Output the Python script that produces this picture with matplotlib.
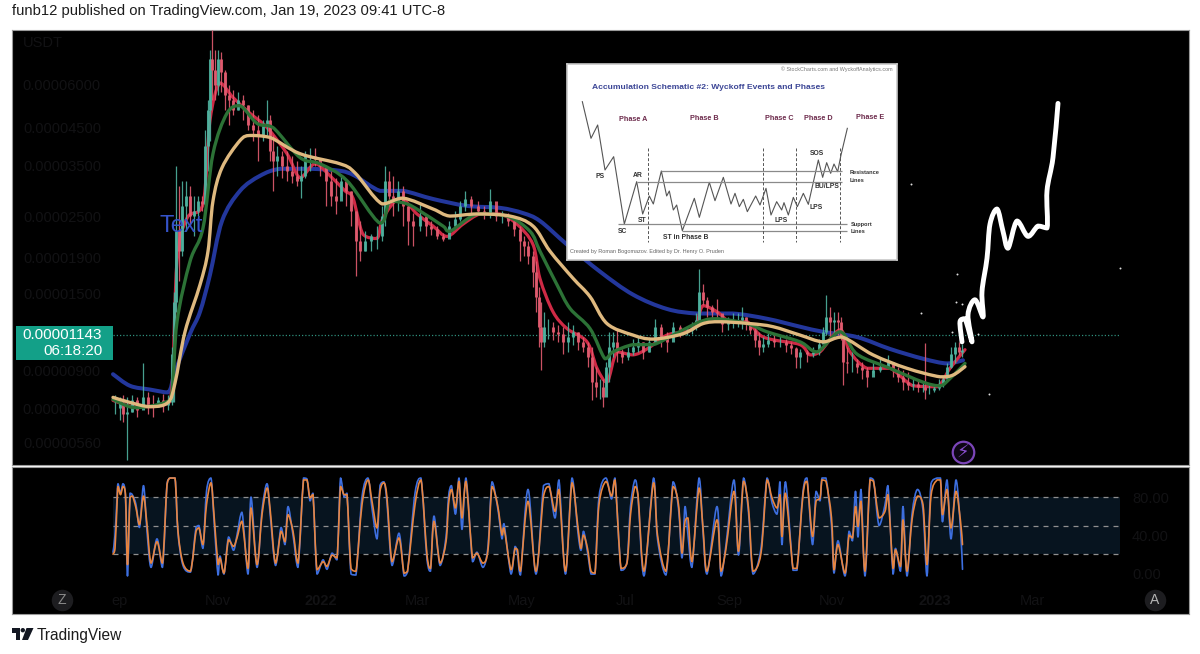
import matplotlib
matplotlib.use("Agg")
import matplotlib.pyplot as plt
import numpy as np
from matplotlib.patches import Polygon, Circle, PathPatch
from matplotlib.path import Path

plt.rcParams['font.family'] = ['Liberation Sans', 'DejaVu Sans']

# Prices are in units of 1e-8 USDT; x is chart position along the time scale.
price_ticks = [6000, 4500, 3500, 2500, 1900, 1500, 900, 700, 560]
price_labels = ['0.00006000', '0.00004500', '0.00003500', '0.00002500', '0.00001900',
                '0.00001500', '0.00000900', '0.00000700', '0.00000560']
last_price = 1143
month_pos = [120, 218, 321, 417, 522, 625, 729, 832, 935, 1032]
month_labels = ['ep', 'Nov', '2022', 'Mar', 'May', 'Jul', 'Sep', 'Nov', '2023', 'Mar']

candle_x = [115,120,123,127,132,137,143,148,153,158,163,168,172,174,176,179,182,186,190,194,198,202,205,208,210,212,215,218,221,225,
229,233,238,243,248,253,258,263,267,270,273,277,282,287,292,297,301,305,310,315,320,326,331,336,341,346,351,356,360,365,
371,377,382,385,389,393,398,403,408,413,420,426,431,437,443,449,455,460,465,471,478,484,490,496,502,508,514,520,524,528,
533,536,539,541,544,548,553,558,563,568,573,578,583,588,592,596,600,603,606,609,613,617,622,628,633,638,643,649,655,661,
667,673,680,687,692,696,699,703,707,712,717,722,728,733,738,742,746,750,755,759,763,768,774,780,786,791,796,800,807,813,
819,823,826,830,834,838,841,843,847,852,857,862,867,873,880,888,893,898,903,908,913,918,923,925,929,934,939,943,947,951,
955,959,962]
candle_high = [765,755,765,755,765,755,945,780,765,755,770,765,1055,1520,3495,3060,3165,3165,3060,2860,2860,2860,4415,5390,7515,8580,7515,7515,7400,6600,
5960,5765,5680,5575,5215,5045,4880,4720,5390,4880,4270,3995,3865,3865,3735,3615,3495,3865,3920,3920,3615,3495,3380,3230,3270,3165,2960,2590,2425,2265,
2230,2345,2680,3495,3380,3270,3165,3060,2680,2555,2750,2505,2425,2345,2235,2425,2590,2770,2960,2860,2770,2680,3000,2680,2590,2555,2505,2345,2190,2120,
1985,1855,1570,1420,1330,1270,1245,1220,1205,1245,1220,1165,1125,1090,1055,925,850,850,955,1165,1165,1190,1040,1055,1110,1125,1090,1125,1270,1230,
1165,1245,1220,1205,1245,1315,1770,1600,1470,1395,1450,1285,1285,1315,1315,1375,1285,1245,1205,1165,1125,1165,1150,1140,1110,1090,1055,1040,1035,1055,
1110,1205,1490,1375,1330,1330,1285,1165,1055,1020,975,955,925,955,975,1000,955,925,905,895,865,850,835,1085,825,820,850,865,945,1055,
1090,1090,1075]
candle_low = [675,650,640,500,685,662,708,675,662,708,685,695,720,730,1330,1625,1920,2265,2345,2190,2505,2590,2680,3380,4130,5390,5390,5575,5680,5045,
4565,4880,5045,4720,4415,4130,3615,4130,4270,3615,2960,3270,3230,3165,3125,3060,2820,3230,3380,3495,3270,2680,2680,2540,2860,2680,2345,1680,1855,1985,
1985,2010,2120,2345,2680,2505,2590,2345,2075,2050,2265,2190,2205,2150,2120,2235,2300,2425,2590,2555,2540,2455,2470,2425,2390,2345,2190,1855,1920,1830,
1570,1330,1055,905,1055,1110,1105,1090,1005,1020,1070,1035,1020,925,740,755,745,708,810,835,985,955,945,965,1000,1020,975,1020,1090,1055,
1020,1110,1125,1140,1150,1180,1305,1395,1285,1270,1270,1165,1180,1195,1205,1190,1180,1150,1055,1000,1020,1055,1055,1055,1020,1005,915,915,955,985,
1000,1090,1140,1125,1140,1140,1105,820,885,895,885,850,810,885,895,915,865,835,795,795,795,780,780,745,770,780,795,810,850,915,
945,1000,985]
candle_close = [705,730,675,685,740,695,755,720,708,740,720,730,1005,1420,2265,1985,2680,2860,2505,2590,2770,2715,3995,5045,7060,6600,5960,7060,6480,5575,
5390,5045,5390,5215,4565,4415,4270,4565,4720,3865,3615,3735,3495,3380,3270,3165,3270,3735,3735,3660,3495,3165,2860,2770,3165,2960,2590,2120,1985,2120,
2190,2190,2505,3165,2860,2770,2960,2680,2425,2345,2505,2345,2300,2190,2150,2345,2455,2680,2805,2680,2590,2555,2770,2505,2505,2425,2300,2120,2050,1920,
1735,1470,1205,1090,1205,1205,1165,1150,1090,1125,1165,1090,1055,985,835,810,810,755,925,1055,1090,1020,985,1020,1055,1090,1020,1090,1205,1125,
1090,1205,1165,1180,1205,1260,1520,1440,1375,1330,1315,1230,1245,1245,1260,1285,1230,1180,1105,1055,1075,1105,1090,1090,1070,1050,985,1020,1005,1020,
1075,1165,1285,1245,1260,1245,1125,955,945,945,925,905,865,905,925,955,905,865,835,820,825,810,810,795,795,805,825,850,925,1005,
1055,1020,1035]

ema_blue_x = [113,130,150,168,175,190,200,210,222,240,260,280,310,340,355,380,403,433,467,500,523,540,567,600,633,667,697,733,767,800,823,857,890,923,947,963]
ema_blue = [880,815,795,780,895,1150,1330,1700,2425,2960,3270,3425,3425,3380,3270,2960,2960,2805,2680,2645,2555,2425,2075,1735,1490,1355,1315,1315,1270,1205,1165,1125,1040,975,945,965]
ema_tan_x = [113,130,150,168,175,185,200,208,213,222,240,250,270,300,340,355,382,403,433,450,477,510,533,550,573,590,607,633,653,683,703,720,750,773,800,823,842,873,907,940,953,965]
ema_tan = [755,730,710,730,830,1165,1590,1985,2770,3450,4130,4270,4215,3785,3540,3335,2715,2820,2625,2505,2540,2505,2345,1985,1660,1470,1230,1140,1110,1150,1230,1245,1230,1205,1140,1090,1125,1000,915,865,875,925]
ema_green_x = [113,135,165,172,177,190,203,213,227,240,257,273,300,320,347,380,390,407,420,443,450,477,507,530,540,557,570,590,605,613,633,653,673,700,717,747,767,800,817,840,857,890,923,940,950,965]
ema_green = [745,705,730,780,1245,1855,2315,3785,4945,5200,4625,4500,3690,3540,3165,2390,2770,2715,2590,2345,2265,2540,2505,2265,1985,1590,1360,1190,975,1020,1070,1070,1140,1245,1270,1230,1165,1090,1020,1165,1005,915,835,815,855,945]
ema_red_x = [113,135,165,172,177,187,203,210,220,233,250,267,287,300,315,330,345,353,363,377,383,400,417,433,447,463,480,500,517,533,540,553,567,587,597,607,617,633,647,667,693,703,717,730,747,760,773,800,810,820,840,850,867,890,913,937,950,965]
ema_red = [740,708,720,810,1855,2470,2715,4720,6040,5490,4945,4500,3785,3230,3540,3270,2960,2820,2220,2160,2470,2820,2540,2345,2190,2375,2540,2540,2375,2075,1655,1330,1190,1090,915,835,1020,1000,1040,1140,1190,1385,1330,1245,1245,1140,1105,1070,1000,1020,1180,1020,915,915,815,810,915,1035]

sketch_x = [962,960,965,972,968,975,983,982,987,990,997,1003,1008,1017,1028,1038,1047,1047,1053,1058]
sketch_price = [1090,1245,1270,1090,1305,1440,1285,1520,1895,2375,2625,2265,2025,2425,2190,2345,2315,2960,3690,5280]
speck_x = [1120,911,957,956,962,921,952,978,989]
speck_price = [1780,3105,1710,1420,1400,1320,1165,1150,770]

stoch_x = [113,115,117,118,120.5,123,125.5,127.5,130,132.5,
136,139.5,143.5,147,151,157,162.5,167,170,175,
178,183,190.5,196,199,203,206.5,211,214,218,
220,224,228.5,233.5,237,242,248,251,257,262,
267,270,275.5,281,285,288,293,298,303.5,307,
310,313,317,323,327,332,337,340.5,344,347,
351,356,362,368,372,377,380,384,387,392,
399,404,407.5,415,421,427,430.5,434,440,446,
448.5,451.5,455.5,459,462,466,472.5,477,483,488,
492,497.5,502,504,511,515,517.5,520.5,528,536,
543.5,549,555,559,565.5,572,578,581,583.5,587.5,
591,595,599,
606,611.5,615,621,627,630.5,635,638,644,653.5,
657.5,666,673,678.5,682,685,688,692,699,703,
707,717,721,726,734,738.5,743.5,748.5,753,761,
767,772,777,780,782,785.5,793,797,803,807,
812.5,816,820,822,826,831.5,834,838,845,849,
852.5,855.5,858,861,865,870,873.5,879,885,888,
893,895.5,900.5,903,907,912,917.5,923,927,931,
937,940.5,942.5,947,951,956,960.5,962.5]
stoch_d = [20,26,72,91,82.5,91,82.5,9,79,81,
68.5,51,81,51,10.5,33,10.5,93,100,100,
44,10.5,2,44,47.5,30,72,95,61.5,9,
16,0,35,28,37,54.5,5,68.5,9,61.5,
89.5,68.5,10.5,44,33,61.5,44,10.5,98,98,
79,82.5,3.5,12,7,19,16,91,82.5,82.5,
5,2,72,98,75.5,47.5,86,95,79,12,
37,0,2,72,98,19,5,54.5,10.5,33,
72,88,68.5,96.5,58,96.5,16,21,10.5,24.5,
91,72,40,47.5,3.5,26,24.5,2,75.5,2,
81,91,65,88,2,95,47.5,26,40,26,
2,0,72,
96.5,81,98,5,10.5,61.5,91,82.5,2,95,
40,2,91,72,21,54.5,58,12,89.5,47.5,
2,56,2,26,86,23,96.5,68.5,2,21,
98,79,68.5,82.5,38.5,84,5,5,82.5,96.5,
38.5,75.5,79,98,96.5,58,3.5,30,0,40,
37,70,49,75.5,2,98,96.5,58,65,82.5,
5,24.5,7,56,2,56,81,72,9,81,
98,98,61.5,88,47.5,86,54.5,30]
stoch_k = [22,40,78,94,84,94,80,-3,84,82,
72,48,92,44,6,36,6,94,100,100,
42,8,1,48,50,26,86,100,56,-2,
18,-1,38,24,40,64,-1,80,6,66,
94,64,8,48,30,70,40,6,100,99,
76,84,-1,14,4,21,14,100,80,84,
-1,-2,80,100,68,36,92,96,74,8,
42,-3,1,84,100,14,2,60,8,38,
80,92,62,100,46,100,12,22,6,28,
96,70,36,52,-1,28,20,-2,88,-1,
92,94,58,98,-1,100,42,24,44,22,
-1,-1,80,
100,78,100,3,12,70,98,80,-3,100,
36,-2,96,68,16,70,40,6,100,44,
-1,70,-3,30,98,19,100,64,-1,26,
100,74,62,96,30,96,3,3,86,100,
30,86,76,100,100,50,0,34,-3,44,
34,86,38,88,-3,100,98,50,72,92,
-1,26,2,70,-3,62,88,66,-3,94,
100,100,54,98,36,98,46,4]
stoch_levels = [80, 50, 20]
stoch_ticks = [80, 40, 0]
stoch_labels = ['80.00', '40.00', '0.00']

# Wyckoff schematic (its own drawing space)
wy_x = [67,93,113,135,161,193,230,248,268,280,304,320,328,340,350,367,403,418,448,465,490,513,525,538,550,562,587,600,618,633,650,665,672,685,700,712,730,745,775,788,800,812,822,833,843,862]
wy_y = [125,235,195,330,290,492,365,462,408,432,333,408,393,450,435,512,415,472,367,422,352,432,400,440,418,455,408,435,385,465,425,450,428,465,412,440,400,433,300,352,308,340,312,335,285,205]
wy_level_from = [304,230,175,367]
wy_level_to = [845,845,860,860]
wy_level_y = [333,365,493,513]
wy_dash_x = [263,610,707,840]
wy_phases = [('Phase A',220,178),('Phase B',433,177),('Phase C',657,175),('Phase D',775,175),('Phase E',930,173)]
wy_events = [('PS',120,348),('AR',232,346),('ST',247,481),('SC',188,515),('ST in Phase B',378,532),('LPS',662,480),
             ('LPS',767,442),('SOS',772,281),('BU/LPS',801,380)]
wy_notes = [('Resistance',914,339),('Lines',892,361),('Support',905,494),('Lines',894,515)]

W, H = 1200, 654
fig = plt.figure(figsize=(12, 6.54), dpi=100, facecolor='white')

def px_axes(l, t, r, b, **kw):
    return fig.add_axes([l/W, 1-b/H, (r-l)/W, (b-t)/H], **kw)

def curve(axis, xs, ys, log=False, **kw):
    """Draw a rounded line through every read point, without overshooting them."""
    x = np.asarray(xs, float)
    y = np.log(np.asarray(ys, float)) if log else np.asarray(ys, float)
    p = np.column_stack([x, y])
    q = np.vstack([p[0], p, p[-1]])
    verts, codes = [p[0]], [Path.MOVETO]
    for i in range(1, len(q) - 2):
        c1 = q[i] + (q[i+1] - q[i-1]) / 6
        c2 = q[i+1] - (q[i+2] - q[i]) / 6
        lo, hi = sorted((q[i][1], q[i+1][1]))
        c1[1] = np.clip(c1[1], lo, hi)
        c2[1] = np.clip(c2[1], lo, hi)
        verts += [c1, c2, q[i+1]]
        codes += [Path.CURVE4] * 3
    v = np.array(verts)
    if log:
        v[:, 1] = np.exp(v[:, 1])
    axis.add_patch(PathPatch(Path(v, codes), fill=False, capstyle='round', joinstyle='round', **kw))

DARK = '#121214'
# ---------- main price pane
ax = px_axes(12, 30, 1189, 465, facecolor='black')
ax.set_yscale('log')
ax.set_xlim(12, 1189)
ax.set_ylim(482.6, 8580)
ax.minorticks_off()
ax.set_yticks(price_ticks, price_labels)
ax.tick_params(axis='y', length=0, pad=-64, labelsize=10.5, labelcolor=DARK)
ax.set_xticks([])
for s in ax.spines.values():
    s.set_color('#9a9a9a'); s.set_linewidth(0.8)

prev = candle_close[0]
wx, wh, wl, wc, bo, bc = [], [], [], [], [], []
for x, h, l, c in zip(candle_x, candle_high, candle_low, candle_close):
    col = '#4fb3a0' if c >= prev else '#e25c70'
    wx.append(x); wh.append(h); wl.append(l); wc.append(col); bo.append(prev); bc.append(c)
    prev = c
curve(ax, ema_blue_x, ema_blue, log=True, edgecolor='#23379c', lw=2.9, zorder=2)
curve(ax, ema_red_x, ema_red, log=True, edgecolor='#cf2a45', lw=2.3, zorder=3)
ax.vlines(wx, wl, wh, colors=wc, lw=0.9, zorder=4, alpha=0.9)
ax.vlines(wx, bo, bc, colors=wc, lw=2.2, zorder=4, alpha=0.9)
curve(ax, ema_green_x, ema_green, log=True, edgecolor='#2c7236', lw=2.4, zorder=5)
curve(ax, ema_tan_x, ema_tan, log=True, edgecolor='#dfb97f', lw=2.4, zorder=6)
ax.hlines(last_price, 113, 1120, colors='#2f8f7c', lw=0.9, linestyles=(0, (1, 1.6)), zorder=1)
curve(ax, sketch_x, sketch_price, log=True, edgecolor='white', lw=3.5, zorder=8)
ax.scatter(speck_x, speck_price, s=2, color='#dddddd', zorder=8, linewidths=0)
ax.text(160, 2345, 'Text', color='#3553c8', fontsize=17, va='center', ha='left', zorder=9)
ax.text(23, 7870, 'USDT', color=DARK, fontsize=10.5, va='center', ha='left')
ax.scatter([963], [525], s=240, facecolor='#0d0614', edgecolor='#7b45b8', linewidths=1.6, zorder=9)
ax.text(963, 525, '\u26A1', color='#8b4fd0', fontsize=13, ha='center', va='center', zorder=10,
        family=['DejaVu Sans'])

# price box
box = px_axes(16, 326, 113, 360, facecolor='#13a088')
box.set_xticks([]); box.set_yticks([])
for s in box.spines.values():
    s.set_visible(False)
box.text(0.89, 0.74, '0.00001143', color='white', fontsize=11, ha='right', va='center', transform=box.transAxes)
box.text(0.89, 0.27, '06:18:20', color='white', fontsize=11, ha='right', va='center', transform=box.transAxes)

# ---------- Wyckoff inset
ins = px_axes(567, 64, 897, 260, facecolor='white')
ins.set_xlim(21, 1011); ins.set_ylim(600, 12)
ins.set_xticks([]); ins.set_yticks([])
for s in ins.spines.values():
    s.set_color('#c8c8c8'); s.set_linewidth(1.2)
ins.plot(wy_x, wy_y, color='#555555', lw=0.8)
ins.hlines(wy_level_y, wy_level_from, wy_level_to, colors='#8a8a8a', lw=0.9)
ins.vlines(wy_dash_x, 265, 545, colors='#555555', lw=0.7, linestyles=(0, (3, 2)))
ins.text(445, 82, 'Accumulation Schematic #2: Wyckoff Events and Phases', color='#3c4696', fontsize=6.1,
         fontweight='bold', ha='center', va='center')
ins.text(830, 29, '\u00a9 StockCharts.com and WyckoffAnalytics.com', color='#777777', fontsize=3.9, ha='center', va='center')
ins.text(260, 575, 'Created by Roman Bogomazov. Edited by Dr. Henry O. Pruden', color='#666666', fontsize=3.95,
         ha='center', va='center')
for t, x, y in wy_phases:
    ins.text(x, y, t, color='#6d2b4c', fontsize=5.2, fontweight='bold', ha='center', va='center')
for t, x, y in wy_events:
    ins.text(x, y, t, color='#333333', fontsize=4.9, fontweight='bold', ha='center', va='center')
for t, x, y in wy_notes:
    ins.text(x, y, t, color='#333333', fontsize=4.1, fontweight='bold', ha='center', va='center')

# ---------- stochastic pane
ax2 = px_axes(12, 467, 1189, 614, facecolor='black')
ax2.set_xlim(12, 1189)
ax2.set_ylim(-43, 111.6)
ax2.axhspan(20, 80, xmin=(113-12)/1177, xmax=(1120-12)/1177, color='#07141f', lw=0, zorder=1)
ax2.hlines(stoch_levels, 113, 1120, colors='#8f8f8f', lw=0.9, linestyles=(0, (4, 4)), zorder=2)
curve(ax2, stoch_x, stoch_k, edgecolor='#3d6fe0', lw=1.2, zorder=3)
curve(ax2, stoch_x, stoch_d, edgecolor='#e8853f', lw=1.2, zorder=4)
ax2.yaxis.tick_right()
ax2.set_yticks(stoch_ticks, stoch_labels)
ax2.tick_params(axis='y', length=0, pad=-41, labelsize=10.5, labelcolor=DARK)
ax2.set_xticks(month_pos, month_labels)
ax2.tick_params(axis='x', length=0, pad=-14.4, labelsize=10.5, labelcolor=DARK)
for lab, t in zip(ax2.get_xticklabels(), month_labels):
    if t.startswith('20'):
        lab.set_fontweight('bold')
for s in ax2.spines.values():
    s.set_color('#9a9a9a'); s.set_linewidth(0.8)
ax2.scatter([62, 1155], [-28, -28], s=240, color='#1d1d20', zorder=5, linewidths=0)
ax2.text(62, -28, 'Z', color='#8a8a8a', fontsize=10, ha='center', va='center', zorder=6)
ax2.text(1155, -28, 'A', color='#b5b5b5', fontsize=10, ha='center', va='center', zorder=6)

# ---------- header / footer
fig.text(12/W, 1-10.5/H, 'funb12 published on TradingView.com, Jan 19, 2023 09:41 UTC-8', fontsize=10.6,
         color='#1c1c1c', ha='left', va='center')
fig.text(37/W, 1-635.5/H, 'TradingView', fontsize=11.2, color='#1c1c1c', ha='left', va='center')
logo = px_axes(11.5, 628, 33.5, 640)
logo.set_xlim(0, 22); logo.set_ylim(12, 0); logo.axis('off')
logo.add_patch(Polygon([(0, 0), (8.5, 0), (8.5, 12), (4, 12), (4, 4.5), (0, 4.5)], color='#131722', lw=0))
logo.add_patch(Circle((11.3, 2.2), 2.2, color='#131722', lw=0))
logo.add_patch(Polygon([(15, 0), (22, 0), (16.5, 12), (10.5, 12)], color='#131722', lw=0))

fig.savefig('out.png', dpi=100, facecolor='white')
